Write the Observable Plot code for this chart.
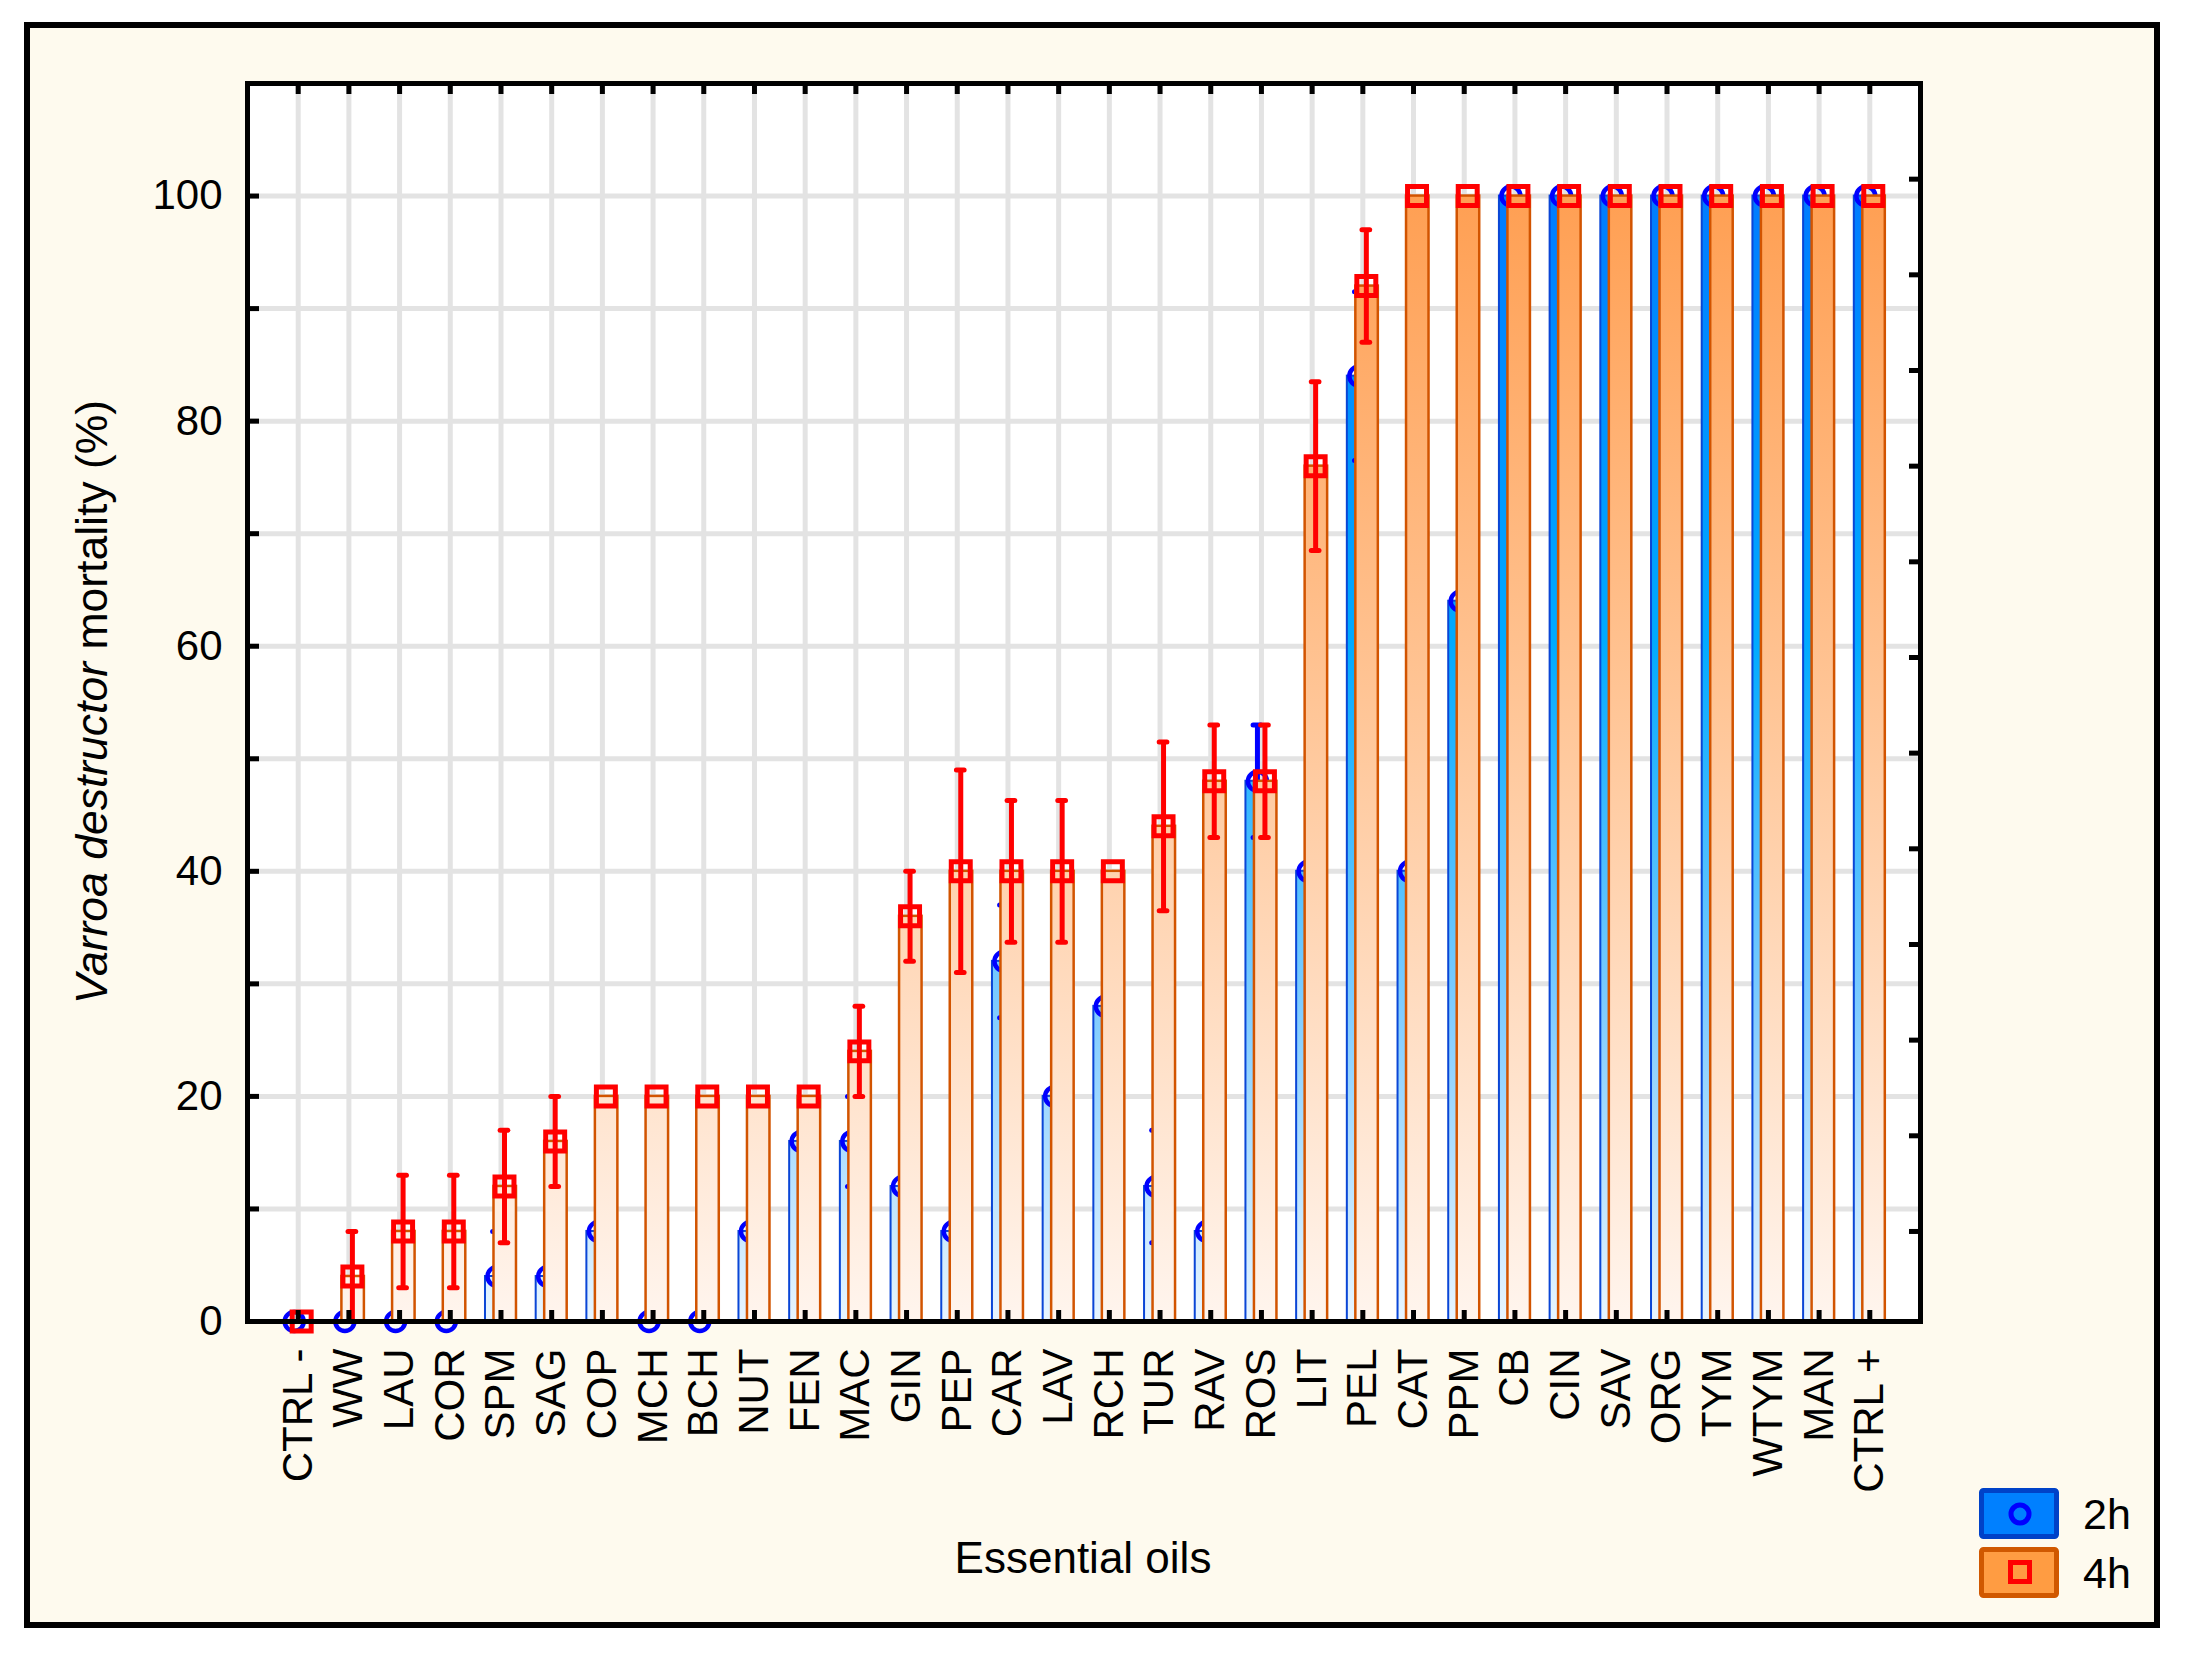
<!DOCTYPE html>
<html><head><meta charset="utf-8">
<script src="https://cdn.jsdelivr.net/npm/d3@7"></script>
<script src="https://cdn.jsdelivr.net/npm/@observablehq/plot@0.6"></script>
<style>
html,body{margin:0;padding:0;background:#fff;}
#page{position:relative;width:2190px;height:1653px;overflow:hidden;}
#outer{position:absolute;left:24px;top:22px;width:2136px;height:1606px;box-sizing:border-box;border:6px solid #000;background:#fefaee;}
#chart{position:absolute;left:0;top:0;}
#legend{position:absolute;left:1970px;top:1480px;}
</style></head><body>
<div id="page"><div id="outer"></div><div id="chart"></div><svg id="legend" width="200" height="130"></svg></div>
<script>
const categories = ["CTRL -","WW","LAU","COR","SPM","SAG","COP","MCH","BCH","NUT","FEN","MAC","GIN","PEP","CAR","LAV","RCH","TUR","RAV","ROS","LIT","PEL","CAT","PPM","CB","CIN","SAV","ORG","TYM","WTYM","MAN","CTRL +"];
const mortality2h = [0,0,0,0,4,4,8,0,0,8,16,16,12,8,32,20,28,12,8,48,40,84,40,64,100,100,100,100,100,100,100,100];
const mortality4h = [0,4,8,8,12,16,20,20,20,20,20,24,36,40,40,40,40,44,48,48,76,92,100,100,100,100,100,100,100,100,100,100];
const error2h = [0,0,0,0,4,0,0,0,0,0,0,4,0,0,5,0,0,5,0,5,0,7.5,0,0,0,0,0,0,0,0,0,0];
const error4h = [0,4,5,5,5,4,0,0,0,0,0,4,4,9,6.3,6.3,0,7.5,5,5,7.5,5,0,0,0,0,0,0,0,0,0,0];
const yTickLabels = [0,20,40,60,80,100];
const yGrid = [10,20,30,40,50,60,70,80,90,100];
const rightTicks = [8,16.5,25,33.5,42,50.5,59,67.5,76,84.5,93,101.5];
const seriesNames = ["2h","4h"];
const xTitle = "Essential oils";
const yTitleItalic = "Varroa destructor";
const yTitleRest = " mortality (%)";

const data = categories.map((c,i)=>({c, v2: mortality2h[i], v4: mortality4h[i], e2: error2h[i], e4: error4h[i]}));
const FONT = "'Liberation Sans', Arial, sans-serif";
const frameW = 1673, frameH = 1238;

const chart = Plot.plot({
  width: 2190, height: 1653,
  marginLeft: 247, marginRight: 270, marginTop: 83, marginBottom: 332,
  style: {background: "transparent", fontFamily: FONT, color: "black", overflow: "visible"},
  x: {type: "band", domain: categories, paddingInner: 0, paddingOuter: 0.5, round: false, label: null, axis: null},
  y: {domain: [0,110], label: null, axis: null},
  marks: [
    Plot.frame({fill: "white", stroke: "none"}),
    Plot.ruleY(yGrid, {y: d=>d, stroke: "#e3e3e3", strokeWidth: 5}),
    Plot.ruleX(categories, {x: d=>d, stroke: "#e3e3e3", strokeWidth: 5}),
    // 2h bars
    Plot.barY(data.filter(d=>d.v2>0), {x: "c", y: "v2", insetLeft: 9.85, insetRight: 31.35, fill: "url(#blueGrad)", stroke: "#0a46d6", strokeWidth: 2}),
    Plot.ruleX(data.filter(d=>d.e2>0), {x: "c", y1: d=>d.v2-d.e2, y2: d=>d.v2+d.e2, dx: -4, stroke: "#0000ff", strokeWidth: 5}),
    Plot.tickY(data.filter(d=>d.e2>0).flatMap(d=>[{c:d.c,y:d.v2-d.e2},{c:d.c,y:d.v2+d.e2}]), {x: "c", y: "y", insetLeft: 17.5, insetRight: 25.5, stroke: "#0000ff", strokeWidth: 5, strokeLinecap: "round"}),
    Plot.dot(data, {x: "c", y: "v2", dx: -4, r: 9.5, stroke: "#0000ff", strokeWidth: 4.5, fill: "none"}),
    // 4h bars
    Plot.barY(data.filter(d=>d.v4>0), {x: "c", y: "v4", insetLeft: 18.35, insetRight: 9.85, fill: "url(#orangeGrad)", stroke: "#d25400", strokeWidth: 2.5}),
    Plot.ruleX(data.filter(d=>d.e4>0), {x: "c", y1: d=>d.v4-d.e4, y2: d=>d.v4+d.e4, dx: 3.5, stroke: "#ff0000", strokeWidth: 5}),
    Plot.tickY(data.filter(d=>d.e4>0).flatMap(d=>[{c:d.c,y:d.v4-d.e4},{c:d.c,y:d.v4+d.e4}]), {x: "c", y: "y", insetLeft: 25, insetRight: 18, stroke: "#ff0000", strokeWidth: 5, strokeLinecap: "round"}),
    Plot.dot(data, {x: "c", y: "v4", dx: 3.5, symbol: "square", r: 10.7, stroke: "#ff0000", strokeWidth: 5, fill: "none"}),
    // frame & ticks
    Plot.frame({stroke: "black", strokeWidth: 5}),
    Plot.tickY(yGrid, {y: d=>d, insetRight: frameW - 12, stroke: "black", strokeWidth: 5}),
    Plot.tickY(rightTicks, {y: d=>d, insetLeft: frameW - 11, stroke: "black", strokeWidth: 5}),
    Plot.tickX(categories, {x: d=>d, insetBottom: frameH - 11, stroke: "black", strokeWidth: 5}),
    Plot.tickX(categories, {x: d=>d, insetTop: frameH - 11, stroke: "black", strokeWidth: 5}),
    Plot.axisY(yTickLabels, {tickSize: 0, tickPadding: 25, fontSize: 42, label: null}),
    Plot.axisX({anchor: "bottom", tickSize: 0, tickPadding: 27, tickRotate: -90, fontSize: 42, label: null})
  ]
});
document.getElementById("chart").appendChild(chart);

const svg = d3.select(chart);
const defs = svg.insert("defs", ":first-child");
const og = defs.append("linearGradient").attr("id","orangeGrad").attr("gradientUnits","userSpaceOnUse").attr("x1",0).attr("x2",0).attr("y1",83).attr("y2",1321);
[[0,"#ff9744"],[0.5,"#ffc596"],[1,"#fff5ee"]].forEach(([o,c])=>og.append("stop").attr("offset",o).attr("stop-color",c));
const bg = defs.append("linearGradient").attr("id","blueGrad").attr("gradientUnits","userSpaceOnUse").attr("x1",0).attr("x2",0).attr("y1",83).attr("y2",1321);
[[0,"#0070ff"],[0.45,"#00aaff"],[0.75,"#80ccff"],[1,"#e8f5ff"]].forEach(([o,c])=>bg.append("stop").attr("offset",o).attr("stop-color",c));

svg.append("text")
  .attr("transform","translate(107,702) rotate(-90)")
  .attr("text-anchor","middle").attr("font-size",44.5).attr("font-family",FONT).attr("fill","black")
  .call(t=>{t.append("tspan").attr("font-style","italic").text(yTitleItalic); t.append("tspan").text(yTitleRest);});
svg.append("text")
  .attr("x",1083).attr("y",1573)
  .attr("text-anchor","middle").attr("font-size",44).attr("font-family",FONT).attr("fill","black")
  .text(xTitle);

// legend
const lg = d3.select("#legend");
const legendStyles = [
  {fill:"#0080ff", stroke:"#0042c8"},
  {fill:"#ff9c42", stroke:"#d05800"}
];
seriesNames.forEach((name,i)=>{
  const y0 = i===0 ? 10.5 : 69.5;
  lg.append("rect").attr("x",11.5).attr("y",y0).attr("width",75).attr("height",46).attr("rx",2)
    .attr("fill",legendStyles[i].fill).attr("stroke",legendStyles[i].stroke).attr("stroke-width",5);
  if (i===0) lg.append("circle").attr("cx",50).attr("cy",y0+23.5).attr("r",9).attr("fill","none").attr("stroke","#0000ff").attr("stroke-width",5);
  else lg.append("rect").attr("x",40.5).attr("y",y0+13).attr("width",19).attr("height",19).attr("fill","none").attr("stroke","#ff0000").attr("stroke-width",5);
  lg.append("text").attr("x",113).attr("y",y0+38).attr("font-size",43).attr("font-family",FONT).attr("fill","black").text(name);
});
</script>
</body></html>
